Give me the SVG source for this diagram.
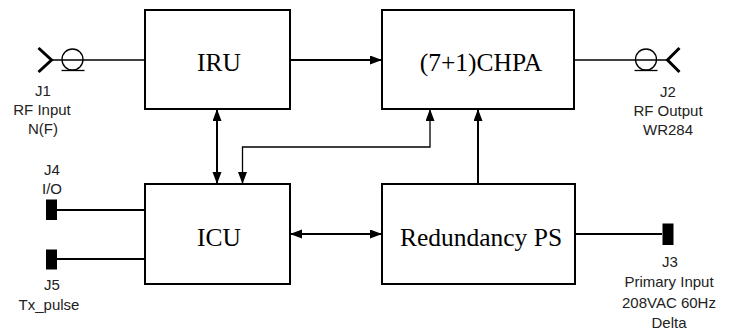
<svg xmlns="http://www.w3.org/2000/svg" width="739" height="331" viewBox="0 0 739 331">
<style>
.box{fill:#fff;stroke:#000;stroke-width:2}
.bt{font-family:"Liberation Serif","Times New Roman",serif;font-size:25.5px;fill:#000;text-anchor:middle}
.lb{font-family:"Liberation Sans",Arial,sans-serif;font-size:15px;fill:#222;text-anchor:middle}
.w{fill:none;stroke:#000;stroke-width:2}
.t{fill:none;stroke:#000;stroke-width:1.3}
.jk{fill:#000}
.chev{fill:none;stroke:#000;stroke-width:3}
</style>
<defs>
<marker id="ah" markerUnits="userSpaceOnUse" markerWidth="12" markerHeight="10" refX="12" refY="4.5" orient="auto-start-reverse">
<path d="M0,0 L12,4.5 L0,9 z" fill="#000"/>
</marker>
</defs>
<rect width="739" height="331" fill="#fff"/>
<g id="connectors">
<line class="t" x1="52" y1="60" x2="145" y2="60"/>
<line class="t" x1="574" y1="60" x2="667" y2="60"/>
<line class="w" x1="290" y1="60" x2="382" y2="60" marker-end="url(#ah)"/>
<line class="w" x1="217" y1="109" x2="217" y2="184" marker-start="url(#ah)" marker-end="url(#ah)"/>
<polyline class="t" points="242.5,184 242.5,147 430,147 430,109" marker-start="url(#ah)" marker-end="url(#ah)"/>
<line class="w" x1="478" y1="184" x2="478" y2="109" marker-end="url(#ah)"/>
<line class="w" x1="290" y1="234" x2="382" y2="234" marker-start="url(#ah)" marker-end="url(#ah)"/>
<line class="w" x1="57" y1="210" x2="145" y2="210"/>
<line class="w" x1="57" y1="259" x2="145" y2="259"/>
<line class="w" x1="575" y1="234" x2="662" y2="234"/>
</g>
<g id="IRU"><rect class="box" x="145" y="10" width="145" height="99"/><text class="bt" x="219" y="71">IRU</text></g>
<g id="CHPA"><rect class="box" x="382" y="10" width="192" height="99"/><text class="bt" x="481" y="71">(7+1)CHPA</text></g>
<g id="ICU"><rect class="box" x="145" y="184" width="145" height="100"/><text class="bt" x="219" y="246">ICU</text></g>
<g id="RPS"><rect class="box" x="382" y="184" width="193" height="100"/><text class="bt" x="481" y="246">Redundancy PS</text></g>
<g id="J1">
<polyline class="chev" points="38.5,48 51.5,60 38.5,72"/>
<circle cx="72.5" cy="59.5" r="10.5" fill="none" stroke="#000" stroke-width="1.3"/>
<line class="t" x1="61.5" y1="70.5" x2="84.5" y2="70.5"/>
<text class="lb" x="43" y="96">J1</text>
<text class="lb" x="42" y="115">RF Input</text>
<text class="lb" x="43" y="134">N(F)</text>
</g>
<g id="J2">
<polyline class="chev" points="679.5,48 667.5,60 679.5,72"/>
<circle cx="646" cy="59.5" r="10.5" fill="none" stroke="#000" stroke-width="1.3"/>
<line class="t" x1="634.5" y1="70.5" x2="657.5" y2="70.5"/>
<text class="lb" x="668" y="97">J2</text>
<text class="lb" x="668" y="116">RF Output</text>
<text class="lb" x="668" y="135">WR284</text>
</g>
<g id="J4">
<rect class="jk" x="46" y="199.5" width="11" height="20.5"/>
<text class="lb" x="52" y="175">J4</text>
<text class="lb" x="52" y="194">I/O</text>
</g>
<g id="J5">
<rect class="jk" x="46" y="249.5" width="11" height="20"/>
<text class="lb" x="52" y="290">J5</text>
<text class="lb" x="49" y="310">Tx_pulse</text>
</g>
<g id="J3">
<rect class="jk" x="662.5" y="223.5" width="11" height="21.5"/>
<text class="lb" x="670" y="267">J3</text>
<text class="lb" x="669" y="287">Primary Input</text>
<text class="lb" x="669" y="308">208VAC 60Hz</text>
<text class="lb" x="669" y="328">Delta</text>
</g>
</svg>
